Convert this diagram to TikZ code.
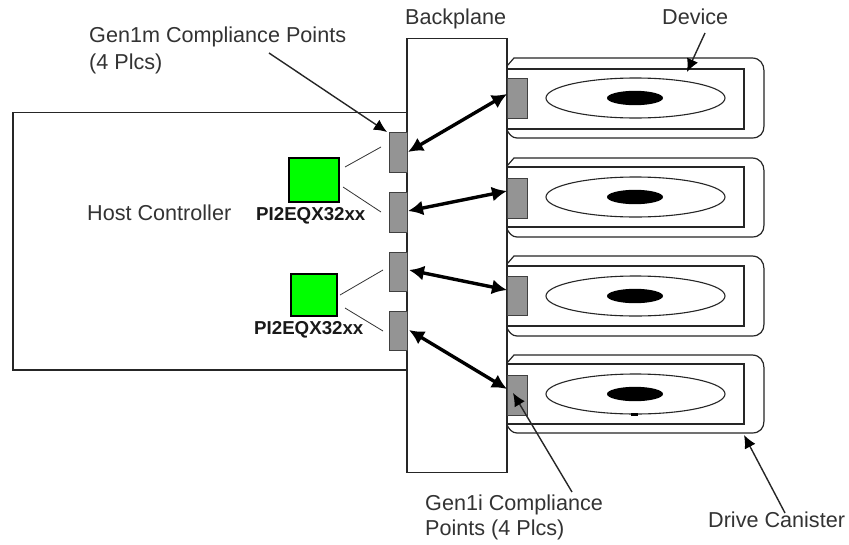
\documentclass[tikz,border=0pt]{standalone}
\usepackage{fontspec}
\setmainfont{Liberation Sans}
\usetikzlibrary{arrows.meta}
\tikzset{
  x=1pt,y=-1pt,
  thinl/.style={draw=black!85,line width=1.2pt},
  comp/.style={draw=black!75,fill=black!42,line width=1.2pt,inner sep=0pt,anchor=north west},
  chip/.style={draw=black,fill=green,line width=1.2pt,inner sep=0pt},
  lbl/.style={font=\fontsize{21.6}{27}\selectfont,text=black!80,align=left,inner sep=0pt},
  partlbl/.style={font=\fontsize{18.7}{22}\bfseries\selectfont,text=black!90,inner sep=0pt,anchor=base west},
  bigarrow/.style={line width=3.4pt,black,{Latex[length=15pt,width=15pt]}-{Latex[length=15pt,width=15pt]}},
  leader/.style={line width=1.4pt,black!85,-{Latex[length=13pt,width=12pt,black]}},
  dashl/.style={line width=.8pt,black!80},
  disk/.style={draw=black!85,fill=white,line width=1.1pt},
}
% top, inner top, inner bottom, bottom, disk centre
\newcommand{\canister}[5]{%
  \draw[thinl,fill=white] (507,#1+8) -- (514,#1) -- (752,#1)
     .. controls (760,#1) and (764,#1+6) .. (764,#1+13) -- (764,#4-12)
     .. controls (764,#4-5) and (760,#4) .. (752,#4) -- (517,#4)
     .. controls (512,#4) and (509,#4-4) .. (507,#4-8);
  \draw[thinl] (507,#2) -- (744,#2) -- (744,#3) -- (507,#3);
  \draw[disk] (635.5,#5) ellipse[x radius=89.5,y radius=20];
  \fill[black] (635,#5) ellipse[x radius=28,y radius=7.2];
}
\begin{document}
\begin{tikzpicture}
\useasboundingbox (0,0) rectangle (849,544);
\fill[white] (0,0) rectangle (849,544);
% host controller board
\draw[thinl] (407,112.5) -- (13,112.5) -- (13,370) -- (407,370);
% canisters
\canister{58}{69}{129}{138}{98}
\canister{158}{167}{227}{237}{197}
\canister{256}{266}{326}{336}{296}
\canister{355}{364}{424}{433}{394}
\fill[black] (631,413) rectangle (638,416);
% backplane
\draw[thinl,fill=white] (407,38.5) rectangle (507,472.5);
% compliance blocks: Gen1m
\node[comp,minimum width=18pt,minimum height=40pt] (m1) at (389,132) {};
\node[comp,minimum width=18pt,minimum height=40pt] (m2) at (389,192) {};
\node[comp,minimum width=18pt,minimum height=39pt] (m3) at (389,252) {};
\node[comp,minimum width=18pt,minimum height=39pt] (m4) at (389,311) {};
% Gen1i
\node[comp,minimum width=20pt,minimum height=40pt] (i1) at (507,78) {};
\node[comp,minimum width=20pt,minimum height=40pt] (i2) at (507,178) {};
\node[comp,minimum width=20pt,minimum height=39pt] (i3) at (507,276) {};
\node[comp,minimum width=20pt,minimum height=40pt] (i4) at (507,375) {};
% chips
\node[chip,minimum width=50pt,minimum height=44pt] (c1) at (314,180) {};
\node[chip,minimum width=46pt,minimum height=42pt] (c2) at (314,295) {};
\node[partlbl] (p1) at (256,220) {PI2EQX32xx};
\node[partlbl] (p2) at (254,334) {PI2EQX32xx};
% thin leaders from the chips
\coordinate (d1a) at (345,167); \coordinate (d1b) at (381,147);
\coordinate (d2a) at (343,187); \coordinate (d2b) at (381,212);
\coordinate (d3a) at (340,295); \coordinate (d3b) at (383,270);
\coordinate (d4a) at (345,308); \coordinate (d4b) at (383,331);
\draw[dashl] (d1a)--(d1b); \draw[dashl] (d2a)--(d2b);
\draw[dashl] (d3a)--(d3b); \draw[dashl] (d4a)--(d4b);
% big arrows
\coordinate (b1a) at (507,94);  \coordinate (b1b) at (408,152);
\coordinate (b2a) at (408,211); \coordinate (b2b) at (507,191);
\coordinate (b3a) at (409,270); \coordinate (b3b) at (507,290);
\coordinate (b4a) at (409,330); \coordinate (b4b) at (507,389);
\draw[bigarrow] (b1a) -- (b1b);
\draw[bigarrow] (b2a) -- (b2b);
\draw[bigarrow] (b3a) -- (b3b);
\draw[bigarrow] (b4a) -- (b4b);
% labels
\node[lbl,anchor=north west] (t1) at (89,27) {Gen1m Compliance Points\\(4 Plcs)};
\node[lbl,anchor=base west] (t2) at (405,24) {Backplane};
\node[lbl,anchor=base west] (t3) at (662,24) {Device};
\node[lbl,anchor=base west] (t4) at (87,220) {Host Controller};
\node[lbl,anchor=north west] (t5) at (425,494.3) {Gen1i Compliance\\[-2pt]Points (4 Plcs)};
\node[lbl,anchor=base west] (t6) at (708,527) {Drive Canister};
\coordinate (a1) at (269,53);  \coordinate (a1e) at (387,132);
\coordinate (a2) at (705,33);  \coordinate (a2e) at (687,72);
\coordinate (a3) at (572,492); \coordinate (a3e) at (513,393);
\coordinate (a4) at (785,513); \coordinate (a4e) at (744,435);
\draw[leader] (a1)--(a1e);
\draw[leader] (a2)--(a2e);
\draw[leader] (a3)--(a3e);
\draw[leader] (a4)--(a4e);
\end{tikzpicture}
\end{document}
